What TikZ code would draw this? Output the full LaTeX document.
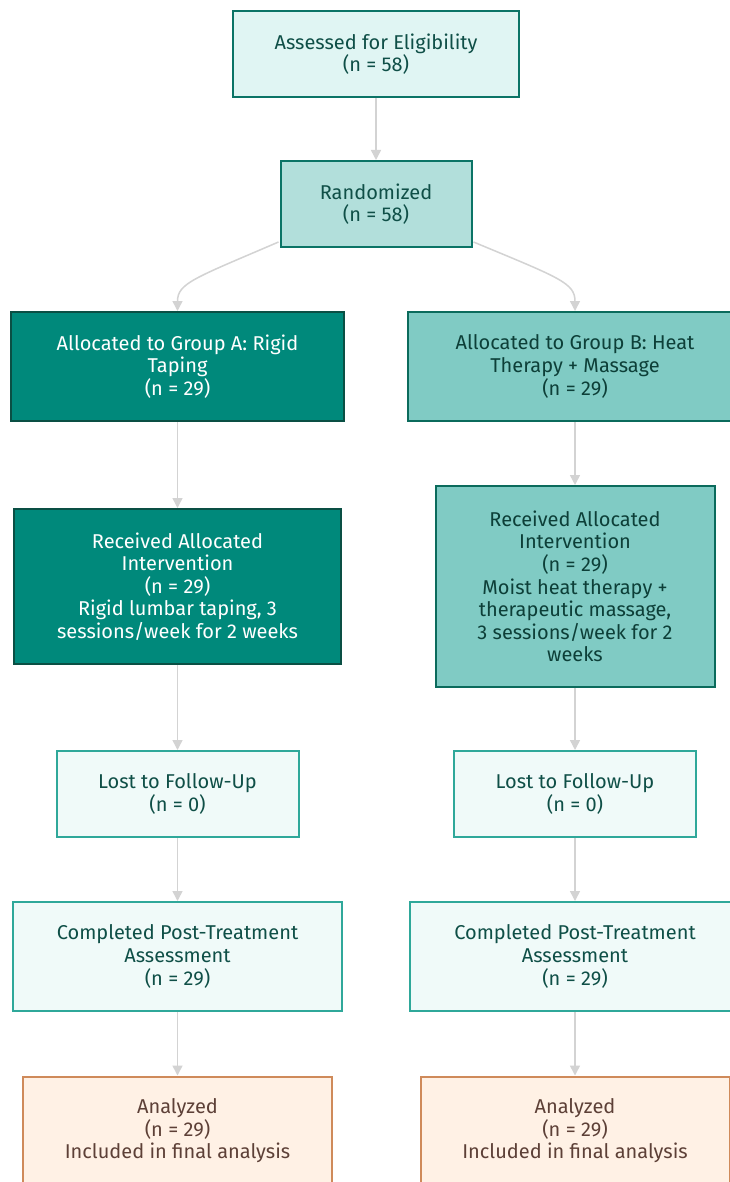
\documentclass[tikz,border=0pt]{standalone}
\usepackage{fontspec}
\setmainfont{Fira Sans}
\usetikzlibrary{arrows.meta,calc}
\definecolor{assfill}{HTML}{E0F5F3}
\definecolor{tealdark}{HTML}{0B7466}
\definecolor{randfill}{HTML}{B2DFDB}
\definecolor{gafill}{HTML}{00897B}
\definecolor{gadraw}{HTML}{0A4F44}
\definecolor{gbfill}{HTML}{80CBC4}
\definecolor{gbdraw}{HTML}{0B6B5C}
\definecolor{gbtext}{HTML}{0D3F38}
\definecolor{lostfill}{HTML}{F0FAF9}
\definecolor{lostdraw}{HTML}{2FA89A}
\definecolor{txtteal}{HTML}{0F4F47}
\definecolor{anfill}{HTML}{FFF1E5}
\definecolor{andraw}{HTML}{CF8A5A}
\definecolor{antext}{HTML}{5D4037}
\definecolor{arrowgray}{HTML}{D3D3D3}
\tikzset{
  box/.style={rectangle, line width=2pt, align=center, inner sep=0pt,
    font=\fontsize{20}{22.6}\selectfont},
  assbox/.style={box, fill=assfill, draw=tealdark, text=txtteal},
  randbox/.style={box, fill=randfill, draw=tealdark, text=txtteal},
  gabox/.style={box, fill=gafill, draw=gadraw, text=white},
  gbbox/.style={box, fill=gbfill, draw=gbdraw, text=gbtext},
  lostbox/.style={box, fill=lostfill, draw=lostdraw, text=txtteal},
  anbox/.style={box, fill=anfill, draw=andraw, text=antext},
  arr/.style={draw=arrowgray, line width=1.5pt, -{Triangle[length=10pt,width=10pt]}}
}
\begin{document}
\begin{tikzpicture}[x=1pt,y=-1pt]
\useasboundingbox (0,0) rectangle (729,1182);
\fill[white] (0,0) rectangle (729,1182);

\node[assbox, minimum width=286pt, minimum height=86pt] (ass) at (376,54)
  {Assessed for Eligibility\\(n = 58)};
\node[randbox, minimum width=191pt, minimum height=86pt] (rand) at (376,204)
  {Randomized\\(n = 58)};

\node[gabox, minimum width=333pt, minimum height=109pt] (ga) at (177.5,366.5)
  {Allocated to Group A: Rigid\\Taping\\(n = 29)};
\node[gbbox, minimum width=334pt, minimum height=109pt] (gb) at (575,366.5)
  {Allocated to Group B: Heat\\Therapy + Massage\\(n = 29)};

\node[gabox, minimum width=327pt, minimum height=155pt] (ra) at (177.5,586.5)
  {Received Allocated\\Intervention\\(n = 29)\\Rigid lumbar taping, 3\\sessions/week for 2 weeks};
\node[gbbox, minimum width=279pt, minimum height=201pt] (rb) at (575,586.5)
  {Received Allocated\\Intervention\\(n = 29)\\Moist heat therapy +\\therapeutic massage,\\3 sessions/week for 2\\weeks};

\node[lostbox, minimum width=242pt, minimum height=86pt] (la) at (177.5,794)
  {Lost to Follow-Up\\(n = 0)};
\node[lostbox, minimum width=242pt, minimum height=86pt] (lb) at (575,794)
  {Lost to Follow-Up\\(n = 0)};

\node[lostbox, minimum width=329pt, minimum height=109pt] (ca) at (177.5,956.5)
  {Completed Post-Treatment\\Assessment\\(n = 29)};
\node[lostbox, minimum width=330pt, minimum height=109pt] (cb) at (575,956.5)
  {Completed Post-Treatment\\Assessment\\(n = 29)};

\node[anbox, minimum width=309pt, minimum height=109pt] (aa) at (177.5,1131)
  {Analyzed\\(n = 29)\\Included in final analysis};
\node[anbox, minimum width=309pt, minimum height=109pt] (ab) at (575,1131)
  {Analyzed\\(n = 29)\\Included in final analysis};

\draw[arr] (ass.south) -- (rand.north);
\draw[arr] ($(rand.south west)+(-1,-6)$) .. controls (195,278) and (177.5,283) .. (ga.north);
\draw[arr] ($(rand.south east)+(1,-6)$) .. controls (560,278) and (575,283) .. (gb.north);
\draw[arr] (ga.south) -- (ra.north);
\draw[arr] (gb.south) -- (rb.north);
\draw[arr] (ra.south) -- (la.north);
\draw[arr] (rb.south) -- (lb.north);
\draw[arr] (la.south) -- (ca.north);
\draw[arr] (lb.south) -- (cb.north);
\draw[arr] (ca.south) -- (aa.north);
\draw[arr] (cb.south) -- (ab.north);
\end{tikzpicture}
\end{document}
